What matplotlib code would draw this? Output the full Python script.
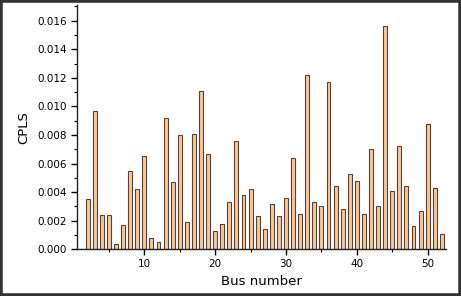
import numpy as np
import matplotlib
matplotlib.use('Agg')
from matplotlib import pyplot as plt
from matplotlib.patches import Rectangle
from matplotlib.ticker import MultipleLocator

# CPLS value per bus (bus 1 has none)
bus = np.arange(1, 53)
cpls = [0.0, 0.0035, 0.0097, 0.0024, 0.0024, 0.0004, 0.0017, 0.0055, 0.0042, 0.0065,
        0.0008, 0.0005, 0.0092, 0.0047, 0.0080, 0.0019, 0.0081, 0.0111, 0.0067, 0.0013,
        0.0018, 0.0033, 0.0076, 0.0038, 0.0042, 0.0023, 0.0014, 0.0032, 0.0023, 0.0036,
        0.0064, 0.0025, 0.0122, 0.0033, 0.0030, 0.0117, 0.0044, 0.0028, 0.0053, 0.0048,
        0.0025, 0.0070, 0.0030, 0.0156, 0.0041, 0.0072, 0.0044, 0.0016, 0.0027, 0.0088,
        0.0043, 0.0011]

plt.rcParams['font.family'] = 'DejaVu Sans'

fig = plt.figure(figsize=(4.61, 2.96), dpi=100)
ax = fig.add_axes([0.1664, 0.1578, 0.8004, 0.8253])

ax.bar(bus, cpls, width=0.55, color='#f5c9a0', edgecolor='#5e4030', linewidth=0.8)

ax.set_xlim(0.45, 52.55)
ax.set_ylim(0, 0.0171)
ax.xaxis.set_major_locator(MultipleLocator(10))
ax.xaxis.set_minor_locator(MultipleLocator(5))
ax.yaxis.set_major_locator(MultipleLocator(0.002))
ax.yaxis.set_minor_locator(MultipleLocator(0.001))
ax.yaxis.set_major_formatter(matplotlib.ticker.FormatStrFormatter('%.3f'))
ax.tick_params(which='major', direction='out', length=4.5, width=1, labelsize=7.5, pad=2.5)
ax.tick_params(which='minor', direction='out', length=2.5, width=0.8)

for s in ['top', 'right']:
    ax.spines[s].set_visible(False)
for s in ['left', 'bottom']:
    ax.spines[s].set_linewidth(1.0)
    ax.spines[s].set_color('#222222')

ax.set_xlabel('Bus number', fontsize=9.5, labelpad=4)
ax.set_ylabel('CPLS', fontsize=9.5, labelpad=5)

# outer frame around the whole figure
fig.patches.append(Rectangle((0, 0), 1, 1, transform=fig.transFigure, fill=False,
                             edgecolor='#333333', linewidth=4))

fig.savefig('out.png', dpi=100)
